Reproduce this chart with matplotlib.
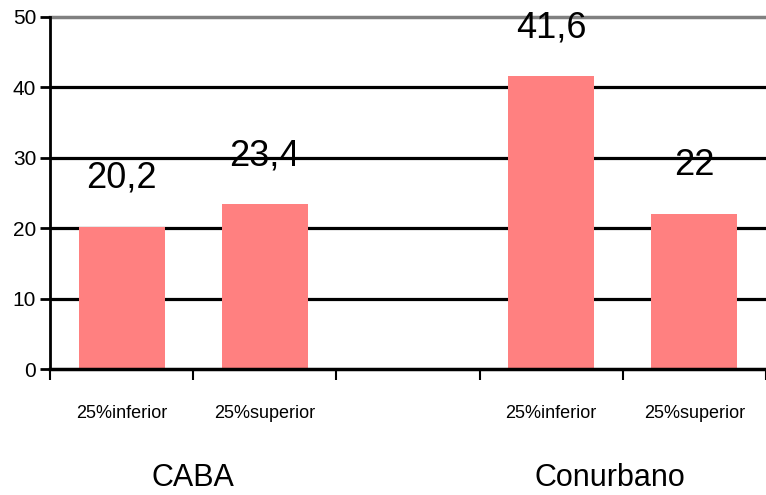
import matplotlib
matplotlib.use('Agg')
import matplotlib.pyplot as plt
import numpy as np

# data
groups = ['CABA', 'Conurbano']
quartiles = ['25%inferior', '25%superior', '', '25%inferior', '25%superior']
values = [20.2, 23.4, np.nan, 41.6, 22.0]
value_labels = ['20,2', '23,4', '', '41,6', '22']
y_ticks = [0, 10, 20, 30, 40, 50]

font = ['Liberation Sans', 'DejaVu Sans']

fig = plt.figure(figsize=(7.66, 4.95), dpi=100)
ax = fig.add_axes([0.0653, 0.2545, 0.9347, 0.7112])

x = np.arange(len(quartiles))
bars = ax.bar(x, values, width=0.6, color='#FF8080', zorder=3)

# value labels above the bars
for xi, v, lab in zip(x, values, value_labels):
    if lab:
        ax.annotate(lab, (xi, v), xytext=(0, 35), textcoords='offset points',
                    ha='center', va='center', fontsize=26, family=font)

ax.set_xlim(-0.5, len(quartiles) - 0.5)
ax.set_ylim(0, 50)

# horizontal grid lines
for yv in y_ticks[1:-1]:
    ax.axhline(yv, color='black', lw=2.3, zorder=1)
ax.axhline(50, color='#808080', lw=2.5, zorder=1, clip_on=False)

for s in ['top', 'right']:
    ax.spines[s].set_visible(False)
ax.spines['left'].set_linewidth(2)
ax.spines['bottom'].set_linewidth(2.5)
ax.spines['bottom'].set_zorder(4)

ax.set_yticks(y_ticks)
ax.set_yticklabels([str(t) for t in y_ticks], family=font, fontsize=15)
ax.tick_params(axis='y', length=7, width=2, pad=3)

# boundary ticks between slots, labels centred in the slots
ax.set_xticks(np.arange(-0.5, len(quartiles) + 0.5, 1.0))
ax.set_xticklabels([])
ax.tick_params(axis='x', length=8, width=1.5)
for xi, lab in zip(x, quartiles):
    ax.text(xi, -0.125, lab, transform=ax.get_xaxis_transform(), ha='center', va='center',
            fontsize=13, family=font)

group_pos = [0.5, 3.41]
for g, gx in zip(groups, group_pos):
    ax.text(gx, -0.31, g, transform=ax.get_xaxis_transform(), ha='center', va='center',
            fontsize=22, family=font)

fig.savefig('out.png', dpi=100)
